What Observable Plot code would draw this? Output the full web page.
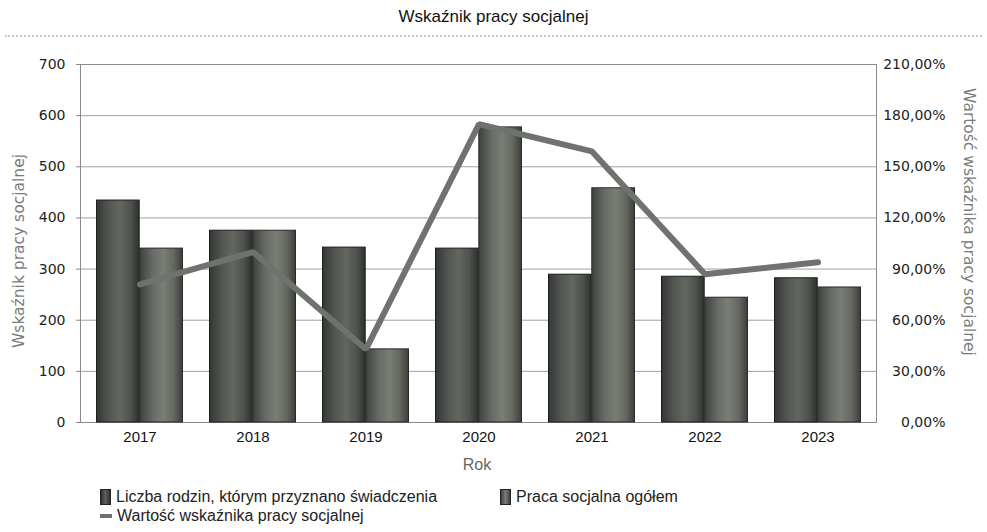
<!DOCTYPE html>
<html><head><meta charset="utf-8">
<script src="https://cdn.jsdelivr.net/npm/d3@7"></script>
<script src="https://cdn.jsdelivr.net/npm/@observablehq/plot@0.6"></script>
<style>
body{margin:0;background:#fff;width:987px;height:532px;overflow:hidden;font-family:"DejaVu Sans",sans-serif;position:relative;}
#title{height:40px;position:relative;}
#title .t{position:absolute;left:0;width:987px;top:7px;text-align:center;font:17px "Liberation Sans",sans-serif;color:#111;}
#title .r{position:absolute;left:5px;right:5px;top:35px;border-top:2px dotted #c8c8c8;}
#legend{position:relative;height:52px;font:16px "Liberation Sans",sans-serif;color:#222;}
.li{position:absolute;display:flex;align-items:center;white-space:nowrap;}
.sw{display:inline-block;margin-right:5px;}
.atitle{position:absolute;white-space:nowrap;color:#7a7a7a;font:15.5px "DejaVu Sans",sans-serif;}
</style></head><body>
<div id="title"><div class="t">Wskaźnik pracy socjalnej</div><div class="r"></div></div>
<div id="chart"></div>
<div id="legend"></div>
<script>
const years = ["2017","2018","2019","2020","2021","2022","2023"];
const families = [434, 375, 342, 340, 289, 285, 282];
const socialWork = [340, 375, 143, 577, 458, 244, 264];
const ratioPct = [81, 100, 43, 175, 159, 87, 94];
const leftTicks = [0,100,200,300,400,500,600,700];
const rightMax = 210;
const leftMax = 700;
const seriesNames = ["Liczba rodzin, którym przyznano świadczenia","Praca socjalna ogółem","Wartość wskaźnika pracy socjalnej"];
const axisTitles = {left:"Wskaźnik pracy socjalnej", right:"Wartość wskaźnika pracy socjalnej", x:"Rok"};

const data = years.map((y,i)=>({year:y, families:families[i], social:socialWork[i], ratio:ratioPct[i]}));

const tickFont = {fontSize:14, fontFamily:"DejaVu Sans"};
const chart = Plot.plot({
  width:987, height:440,
  marginLeft:80, marginRight:111, marginTop:24, marginBottom:58,
  style:{background:"transparent", color:"#222", fontFamily:"DejaVu Sans"},
  x:{type:"band", domain:years, padding:0},
  y:{domain:[0,leftMax]},
  marks:[
    Plot.gridY(leftTicks.slice(1), {stroke:"#a0a0a0", strokeOpacity:1, strokeWidth:1}),
    Plot.frame({stroke:"#8a8a8a"}),
    Plot.barY(data, {x:"year", y:"families", fill:"url(#gDark)", stroke:"#1e1e1e", strokeWidth:1, insetLeft:13.5, insetRight:56.8}),
    Plot.barY(data, {x:"year", y:"social", fill:"url(#gLight)", stroke:"#2a2a2a", strokeWidth:1, insetLeft:56.8, insetRight:13.5}),
    Plot.lineY(data, {x:"year", y:d=>d.ratio/rightMax*leftMax, stroke:"#6f736e", strokeWidth:6, strokeLinejoin:"miter"}),
    Plot.axisY({ticks:leftTicks, tickSize:4, tickPadding:11, label:null, stroke:"#888", ...tickFont, fill:"#222"}),
    Plot.axisY({anchor:"right", ticks:leftTicks, tickSize:0, tickPadding:69, textAnchor:"end", label:null,
      tickFormat:d=>(d/leftMax*rightMax).toFixed(2).replace(".",",")+"%", ...tickFont, fill:"#222"}),
    Plot.axisX({tickSize:0, tickPadding:9, label:null, fontSize:15, fontFamily:"Liberation Sans", fill:"#111"})
  ]
});
const svg = d3.select(chart);
const defs = svg.insert("defs", ":first-child");
function grad(id, stops){
  const g = defs.append("linearGradient").attr("id", id).attr("x1","0%").attr("x2","100%").attr("y1","0%").attr("y2","0%");
  stops.forEach(([o,c])=>g.append("stop").attr("offset",o).attr("stop-color",c));
}
grad("gDark", [["0%","#343734"],["30%","#535752"],["55%","#636760"],["80%","#4e524d"],["100%","#2e312e"]]);
grad("gLight", [["0%","#3e413d"],["30%","#676b65"],["55%","#7a7e77"],["80%","#63675f"],["100%","#3b3e3a"]]);
document.getElementById("chart").appendChild(chart);

function addTitle(text, cx, cy, rot, extra){
  const d = document.createElement("div");
  d.className = "atitle"; d.textContent = text;
  d.style.left = cx+"px"; d.style.top = cy+"px";
  d.style.transform = "translate(-50%,-50%) rotate("+rot+"deg)";
  if (extra) Object.assign(d.style, extra);
  document.body.appendChild(d);
}
addTitle(axisTitles.left, 19, 251, -90);
addTitle(axisTitles.right, 969, 222, 90);
addTitle(axisTitles.x, 477, 465, 0, {font:'16px "Liberation Sans",sans-serif', color:"#666"});

const leg = document.getElementById("legend");
const items = [
  {x:100, y:8, name:seriesNames[0], sw:'<span class="sw" style="width:9px;height:14px;background:linear-gradient(90deg,#2e312e,#5c605a,#2e312e);border:1px solid #222"></span>'},
  {x:500, y:8, name:seriesNames[1], sw:'<span class="sw" style="width:9px;height:14px;background:linear-gradient(90deg,#3c3f3b,#7a7e77,#3c3f3b);border:1px solid #222"></span>'},
  {x:100, y:27, name:seriesNames[2], sw:'<span class="sw" style="width:12px;height:4px;background:#6f736e"></span>'}
];
items.forEach(it=>{
  const d = document.createElement("div");
  d.className="li"; d.style.left=it.x+"px"; d.style.top=it.y+"px";
  d.innerHTML = it.sw + "<span>"+it.name+"</span>";
  leg.appendChild(d);
});
</script>
</body></html>
